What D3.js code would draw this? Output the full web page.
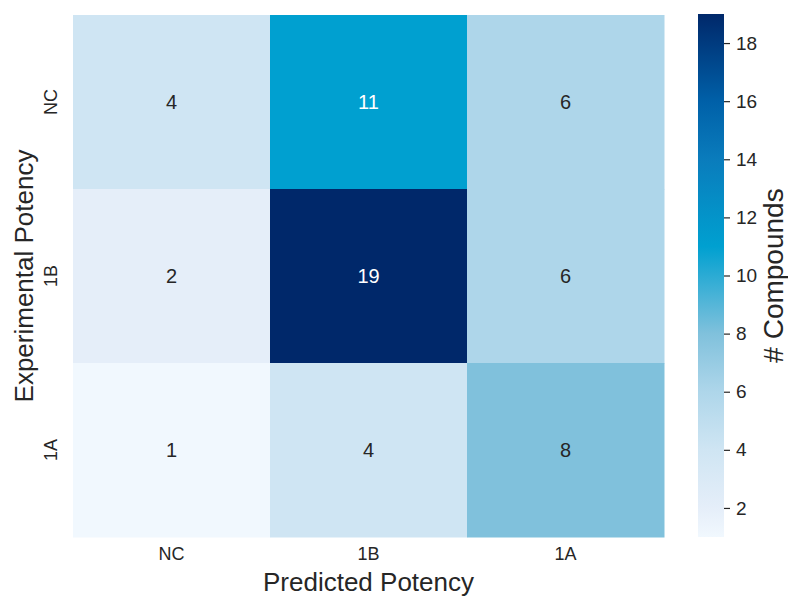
<!DOCTYPE html>
<html>
<head>
<meta charset="utf-8">
<script src="https://cdn.jsdelivr.net/npm/d3@7"></script>
<style>
  body { margin: 0; background: #fff; }
  text { font-family: "Liberation Sans", Arial, sans-serif; fill: #262626; }
</style>
</head>
<body>
<div id="chart"></div>
<script>
// Data
var predicted = ["NC", "1B", "1A"];
var experimental = ["NC", "1B", "1A"];
var counts = [
  [4, 11, 6],
  [2, 19, 6],
  [1, 4, 8]
];
var cbarTicks = [2, 4, 6, 8, 10, 12, 14, 16, 18];

// colour map stops (value -> colour)
var stopValues = [1, 2, 4, 6, 8, 11, 14, 16, 19];
var stopColors = ["#f1f8fe", "#e5eef9", "#cfe5f3", "#aed6ea", "#80c1dc", "#00a0d0", "#0a7cbc", "#0060a8", "#00286a"];
var color = d3.scaleLinear().domain(stopValues).range(stopColors).interpolate(d3.interpolateRgb);

var svg = d3.select("#chart").append("svg").attr("width", 788).attr("height", 597);

var margin = { top: 15, left: 73, right: 124, bottom: 60 };
var width = 664 - margin.left;
var height = 537 - margin.top;

var x = d3.scaleBand().domain(predicted).range([0, width]);
var y = d3.scaleBand().domain(experimental).range([0, height]);

var g = svg.append("g").attr("transform", "translate(" + margin.left + "," + margin.top + ")");

var cells = [];
counts.forEach(function (row, i) {
  row.forEach(function (v, j) {
    cells.push({ row: experimental[i], col: predicted[j], value: v });
  });
});

g.selectAll(".cell")
  .data(cells)
  .enter()
  .append("rect")
  .attr("class", "cell")
  .attr("x", function (d) { return x(d.col); })
  .attr("y", function (d) { return y(d.row); })
  .attr("width", x.bandwidth() + 0.5)
  .attr("height", y.bandwidth() + 0.5)
  .style("fill", function (d) { return color(d.value); });

g.selectAll(".annot")
  .data(cells)
  .enter()
  .append("text")
  .attr("class", "annot")
  .attr("x", function (d) { return x(d.col) + x.bandwidth() / 2; })
  .attr("y", function (d) { return y(d.row) + y.bandwidth() / 2; })
  .attr("dy", "0.35em")
  .attr("text-anchor", "middle")
  .style("font-size", "20px")
  .style("fill", function (d) { return d.value >= 10 ? "#ffffff" : "#262626"; })
  .text(function (d) { return d.value; });

// x axis tick labels
var xAxis = g.append("g")
  .attr("transform", "translate(0," + height + ")")
  .call(d3.axisBottom(x).tickSize(0).tickPadding(10));
xAxis.select(".domain").remove();
xAxis.selectAll("text").style("font-size", "18px").attr("fill", "#262626");

// y axis tick labels (rotated)
var yAxis = g.append("g").call(d3.axisLeft(y).tickSize(0).tickPadding(0));
yAxis.select(".domain").remove();
yAxis.selectAll("text")
  .style("font-size", "18px")
  .attr("fill", "#262626")
  .attr("text-anchor", "middle")
  .attr("x", 0)
  .attr("dy", 0)
  .attr("transform", "translate(-16,0) rotate(-90)");

svg.append("text")
  .attr("x", margin.left + width / 2)
  .attr("y", 591)
  .attr("text-anchor", "middle")
  .style("font-size", "26px")
  .text("Predicted Potency");

svg.append("text")
  .attr("transform", "translate(33," + (margin.top + height / 2) + ") rotate(-90)")
  .attr("text-anchor", "middle")
  .style("font-size", "26px")
  .text("Experimental Potency");

// colour bar
var cbX = 698, cbW = 26;
var cy = d3.scaleLinear().domain([1, 19]).range([537, 14]);
var defs = svg.append("defs");
var grad = defs.append("linearGradient").attr("id", "cbar")
  .attr("x1", "0").attr("y1", "1").attr("x2", "0").attr("y2", "0");
stopValues.forEach(function (v) {
  grad.append("stop")
    .attr("offset", (v - 1) / 18)
    .attr("stop-color", color(v));
});
svg.append("rect")
  .attr("x", cbX).attr("y", cy(19))
  .attr("width", cbW).attr("height", cy(1) - cy(19))
  .style("fill", "url(#cbar)");

var cAxis = svg.append("g")
  .attr("transform", "translate(" + (cbX + cbW) + ",0)")
  .call(d3.axisRight(cy).tickValues(cbarTicks).tickSize(6).tickPadding(6));
cAxis.select(".domain").remove();
cAxis.selectAll("line").attr("stroke", "#262626").attr("stroke-width", 1.2);
cAxis.selectAll("text").style("font-size", "19px").attr("fill", "#262626");

svg.append("text")
  .attr("transform", "translate(783," + cy(10) + ") rotate(-90)")
  .attr("text-anchor", "middle")
  .style("font-size", "28px")
  .text("# Compounds");
</script>
</body>
</html>
